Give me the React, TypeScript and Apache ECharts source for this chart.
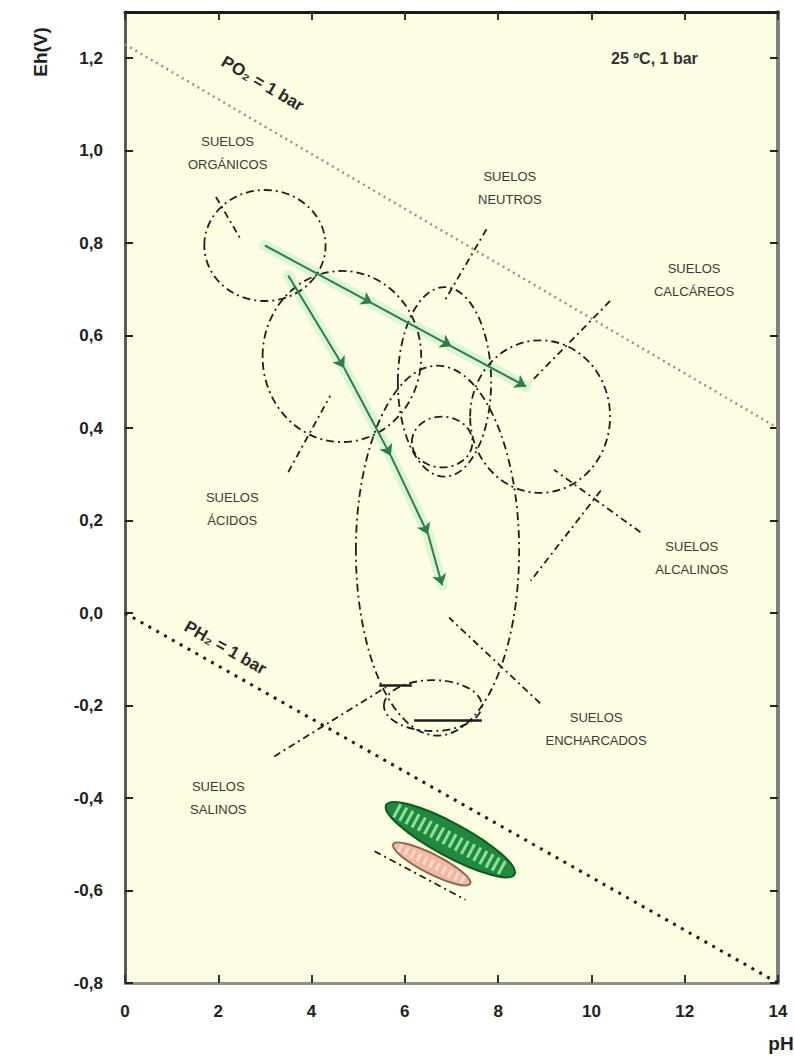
import React, { useEffect, useRef } from "react";
import * as echarts from "echarts";

// Stability limits of water (pH, Eh)
const o2Line = [[0, 1.23], [14, 0.4]];
const h2Line = [[0, 0], [14, -0.8]];

// Soil regions: [center pH, center Eh, half-width pH, half-height Eh]
const regionEllipses = [
  [3.0, 0.795, 1.3, 0.12],
  [4.65, 0.555, 1.7, 0.185],
  [6.85, 0.5, 1.0, 0.205],
  [8.9, 0.425, 1.5, 0.165],
  [6.7, 0.135, 1.75, 0.4],
  [6.8, 0.37, 0.65, 0.055],
  [6.6, -0.2, 1.05, 0.055],
];

// Leader lines from labels to regions
const leaderLines = [
  [[1.95, 0.9], [2.5, 0.805]],
  [[7.75, 0.83], [6.85, 0.675]],
  [[10.4, 0.675], [8.7, 0.5]],
  [[3.5, 0.305], [4.4, 0.47]],
  [[11.05, 0.175], [9.2, 0.31]],
  [[10.2, 0.265], [8.7, 0.07]],
  [[8.9, -0.195], [6.95, -0.01]],
  [[3.2, -0.31], [5.6, -0.16]],
  [[5.35, -0.515], [7.3, -0.62]],
];

// Short solid bars at the bottom of the waterlogged region
const solidBars = [
  [[5.45, -0.155], [6.15, -0.155]],
  [[6.2, -0.232], [7.65, -0.232]],
];

// Green evolution paths
const greenPath1 = [[3.0, 0.795], [5.3, 0.67], [7.0, 0.577], [8.6, 0.49]];
const greenPath2 = [[3.5, 0.73], [4.7, 0.53], [5.7, 0.34], [6.5, 0.17], [6.8, 0.06]];

// Bottom patches: [pH1, Eh1, pH2, Eh2, half-thickness Eh]
const pinkPatch = [[5.75, -0.5, 7.4, -0.585, 0.021]];
const greenPatch = [[5.6, -0.415, 8.35, -0.565, 0.036]];

const regionLabels = [
  { text: "SUELOS\nORGÁNICOS", pos: [2.2, 0.995] },
  { text: "SUELOS\nNEUTROS", pos: [8.25, 0.92] },
  { text: "SUELOS\nCALCÁREOS", pos: [12.2, 0.72] },
  { text: "SUELOS\nÁCIDOS", pos: [2.3, 0.225] },
  { text: "SUELOS\nALCALINOS", pos: [12.15, 0.12] },
  { text: "SUELOS\nENCHARCADOS", pos: [10.1, -0.25] },
  { text: "SUELOS\nSALINOS", pos: [2.0, -0.4] },
];

const conditionLabel = { text: "25 ºC, 1 bar", pos: [11.35, 1.2] };

const lineLabels = [
  { text: "PO₂ = 1 bar", pos: [2.95, 1.145], line: o2Line },
  { text: "PH₂ = 1 bar", pos: [2.15, -0.075], line: h2Line },
];

const FONT = "'Liberation Sans','Noto Sans',sans-serif";

function segmentsOf(path: number[][]) {
  const out: any[] = [];
  for (let i = 0; i < path.length - 1; i++) out.push({ coords: [path[i], path[i + 1]] });
  return out;
}

function patchRender(fill: string, stroke: string, hatch: string) {
  return (params: any, api: any) => {
    const p1 = api.coord([api.value(0), api.value(1)]);
    const p2 = api.coord([api.value(2), api.value(3)]);
    const t = Math.abs(api.size([0, api.value(4)])[1]);
    const cx = (p1[0] + p2[0]) / 2;
    const cy = (p1[1] + p2[1]) / 2;
    const len = Math.hypot(p2[0] - p1[0], p2[1] - p1[1]) / 2;
    const ang = -Math.atan2(p2[1] - p1[1], p2[0] - p1[0]);
    return {
      type: "group",
      children: [
        {
          type: "ellipse",
          x: cx,
          y: cy,
          rotation: ang,
          shape: { cx: 0, cy: 0, rx: len, ry: t },
          style: { fill, stroke, lineWidth: 2 },
        },
        {
          type: "line",
          x: cx,
          y: cy,
          rotation: ang,
          shape: { x1: -len * 0.85, y1: 0, x2: len * 0.85, y2: 0 },
          style: { stroke: hatch, lineWidth: t * 0.9, lineDash: [3, 4] },
        },
      ],
    };
  };
}

function textItem(text: string, font: string, fill: string) {
  return (params: any, api: any) => {
    const c = api.coord([api.value(0), api.value(1)]);
    return {
      type: "text",
      x: c[0],
      y: c[1],
      style: { text, font, fill, align: "center", verticalAlign: "middle" },
    };
  };
}

export default function App() {
  const ref = useRef<HTMLDivElement>(null);
  useEffect(() => {
    if (!ref.current) return;
    const chart = echarts.init(ref.current, null, { renderer: "svg" });
    const axisCommon = { type: "value", splitLine: { show: false } };
    const option: any = {
      animation: false,
      backgroundColor: "#ffffff",
      grid: {
        left: 125,
        right: 16,
        top: 12,
        bottom: 78,
        show: true,
        backgroundColor: "#fdfde2",
        borderWidth: 0,
      },
      xAxis: [
        {
          ...axisCommon,
          min: 0,
          max: 14,
          interval: 2,
          position: "bottom",
          axisLine: { show: true, onZero: false, lineStyle: { color: "#8f8f86", width: 3 } },
          axisTick: { show: true, inside: true, length: 8, lineStyle: { color: "#333", width: 2 } },
          axisLabel: { color: "#222", fontSize: 17, fontFamily: FONT, fontWeight: "bold", margin: 20 },
        },
        {
          ...axisCommon,
          min: 0,
          max: 14,
          interval: 2,
          position: "top",
          axisLine: { show: true, onZero: false, lineStyle: { color: "#1a1a1a", width: 3 } },
          axisTick: { show: true, inside: true, length: 8, lineStyle: { color: "#333", width: 2 } },
          axisLabel: { show: false },
        },
      ],
      yAxis: [
        {
          ...axisCommon,
          min: -0.8,
          max: 1.3,
          interval: 0.2,
          position: "left",
          axisLine: { show: true, onZero: false, lineStyle: { color: "#5a5a52", width: 3 } },
          axisTick: { show: true, inside: true, length: 8, lineStyle: { color: "#222", width: 2 } },
          axisLabel: {
            color: "#222",
            fontSize: 17,
            fontFamily: FONT,
            fontWeight: "bold",
            margin: 22,
            showMaxLabel: false,
            formatter: (v: number) =>
              Math.abs(v * 5 - Math.round(v * 5)) < 1e-6 ? v.toFixed(1).replace(".", ",") : "",
          },
        },
        {
          ...axisCommon,
          min: -0.8,
          max: 1.3,
          interval: 0.2,
          position: "right",
          axisLine: { show: true, onZero: false, lineStyle: { color: "#808080", width: 4 } },
          axisTick: { show: true, inside: true, length: 8, lineStyle: { color: "#222", width: 2 } },
          axisLabel: { show: false },
        },
      ],
      graphic: [
        {
          type: "text",
          x: 40,
          y: 52,
          rotation: Math.PI / 2,
          style: {
            text: "Eh(V)",
            font: `bold 19px ${FONT}`,
            fill: "#222",
            align: "center",
            verticalAlign: "middle",
          },
        },
        {
          type: "text",
          x: 781,
          y: 1043,
          style: {
            text: "pH",
            font: `bold 19px ${FONT}`,
            fill: "#222",
            align: "center",
            verticalAlign: "middle",
          },
        },
      ],
      series: [
        {
          type: "line",
          data: o2Line,
          symbol: "none",
          silent: true,
          lineStyle: { color: "#b08a7c", width: 2.5, type: [2, 4] },
          z: 3,
        },
        {
          type: "line",
          data: h2Line,
          symbol: "none",
          silent: true,
          lineStyle: { color: "#1c1c1c", width: 3, type: [3, 6] },
          z: 3,
        },
        {
          type: "lines",
          coordinateSystem: "cartesian2d",
          polyline: true,
          silent: true,
          data: [{ coords: greenPath1 }, { coords: greenPath2 }],
          lineStyle: { color: "rgba(185,240,200,0.5)", width: 11, opacity: 1, cap: "round" },
          symbol: "none",
          z: 2,
        },
        {
          type: "custom",
          silent: true,
          data: regionEllipses,
          renderItem: (params: any, api: any) => {
            const c = api.coord([api.value(0), api.value(1)]);
            const s = api.size([api.value(2), api.value(3)]);
            return {
              type: "ellipse",
              shape: { cx: c[0], cy: c[1], rx: Math.abs(s[0]), ry: Math.abs(s[1]) },
              style: { fill: "none", stroke: "#1e1e1e", lineWidth: 1.8, lineDash: [8, 4, 2, 4] },
            };
          },
          z: 4,
        },
        {
          type: "lines",
          coordinateSystem: "cartesian2d",
          silent: true,
          data: leaderLines.map((c) => ({ coords: c })),
          lineStyle: { color: "#1e1e1e", width: 1.8, type: [7, 4, 2, 4], opacity: 1 },
          symbol: "none",
          z: 4,
        },
        {
          type: "lines",
          coordinateSystem: "cartesian2d",
          silent: true,
          data: solidBars.map((c) => ({ coords: c })),
          lineStyle: { color: "#1e1e1e", width: 2.5, opacity: 1 },
          symbol: "none",
          z: 4,
        },
        {
          type: "lines",
          coordinateSystem: "cartesian2d",
          silent: true,
          data: [...segmentsOf(greenPath1), ...segmentsOf(greenPath2)],
          lineStyle: { color: "#2f7f45", width: 2, opacity: 1 },
          symbol: ["none", "arrow"],
          symbolSize: 11,
          z: 5,
        },
        {
          type: "custom",
          silent: true,
          data: pinkPatch,
          renderItem: patchRender("#f2b9a2", "#8a6a50", "rgba(255,230,215,0.7)"),
          z: 5,
        },
        {
          type: "custom",
          silent: true,
          data: greenPatch,
          renderItem: patchRender("#1f8a3c", "#0c5a22", "rgba(190,250,195,0.75)"),
          z: 6,
        },
        {
          type: "custom",
          silent: true,
          data: regionLabels.map((l) => l.pos),
          renderItem: (params: any, api: any) => {
            const c = api.coord([api.value(0), api.value(1)]);
            return {
              type: "text",
              x: c[0],
              y: c[1],
              style: {
                text: regionLabels[params.dataIndex].text,
                font: `13px ${FONT}`,
                fill: "#3a3a34",
                align: "center",
                verticalAlign: "middle",
                lineHeight: 23,
              },
            };
          },
          z: 7,
        },
        {
          type: "custom",
          silent: true,
          data: [conditionLabel.pos],
          renderItem: textItem(conditionLabel.text, `bold 16px ${FONT}`, "#333"),
          z: 7,
        },
        {
          type: "custom",
          silent: true,
          data: lineLabels.map((l) => l.pos),
          renderItem: (params: any, api: any) => {
            const lab = lineLabels[params.dataIndex];
            const c = api.coord([api.value(0), api.value(1)]);
            const p1 = api.coord(lab.line[0]);
            const p2 = api.coord(lab.line[1]);
            const ang = -Math.atan2(p2[1] - p1[1], p2[0] - p1[0]);
            return {
              type: "text",
              x: c[0],
              y: c[1],
              rotation: ang,
              style: {
                text: lab.text,
                font: `bold 17px ${FONT}`,
                fill: "#2a2a26",
                align: "center",
                verticalAlign: "middle",
              },
            };
          },
          z: 7,
        },
      ],
    };
    chart.setOption(option);
    return () => chart.dispose();
  }, []);
  return (
    <div
      ref={ref}
      style={{ position: "absolute", left: 0, top: 0, width: 794, height: 1061 }}
    />
  );
}
